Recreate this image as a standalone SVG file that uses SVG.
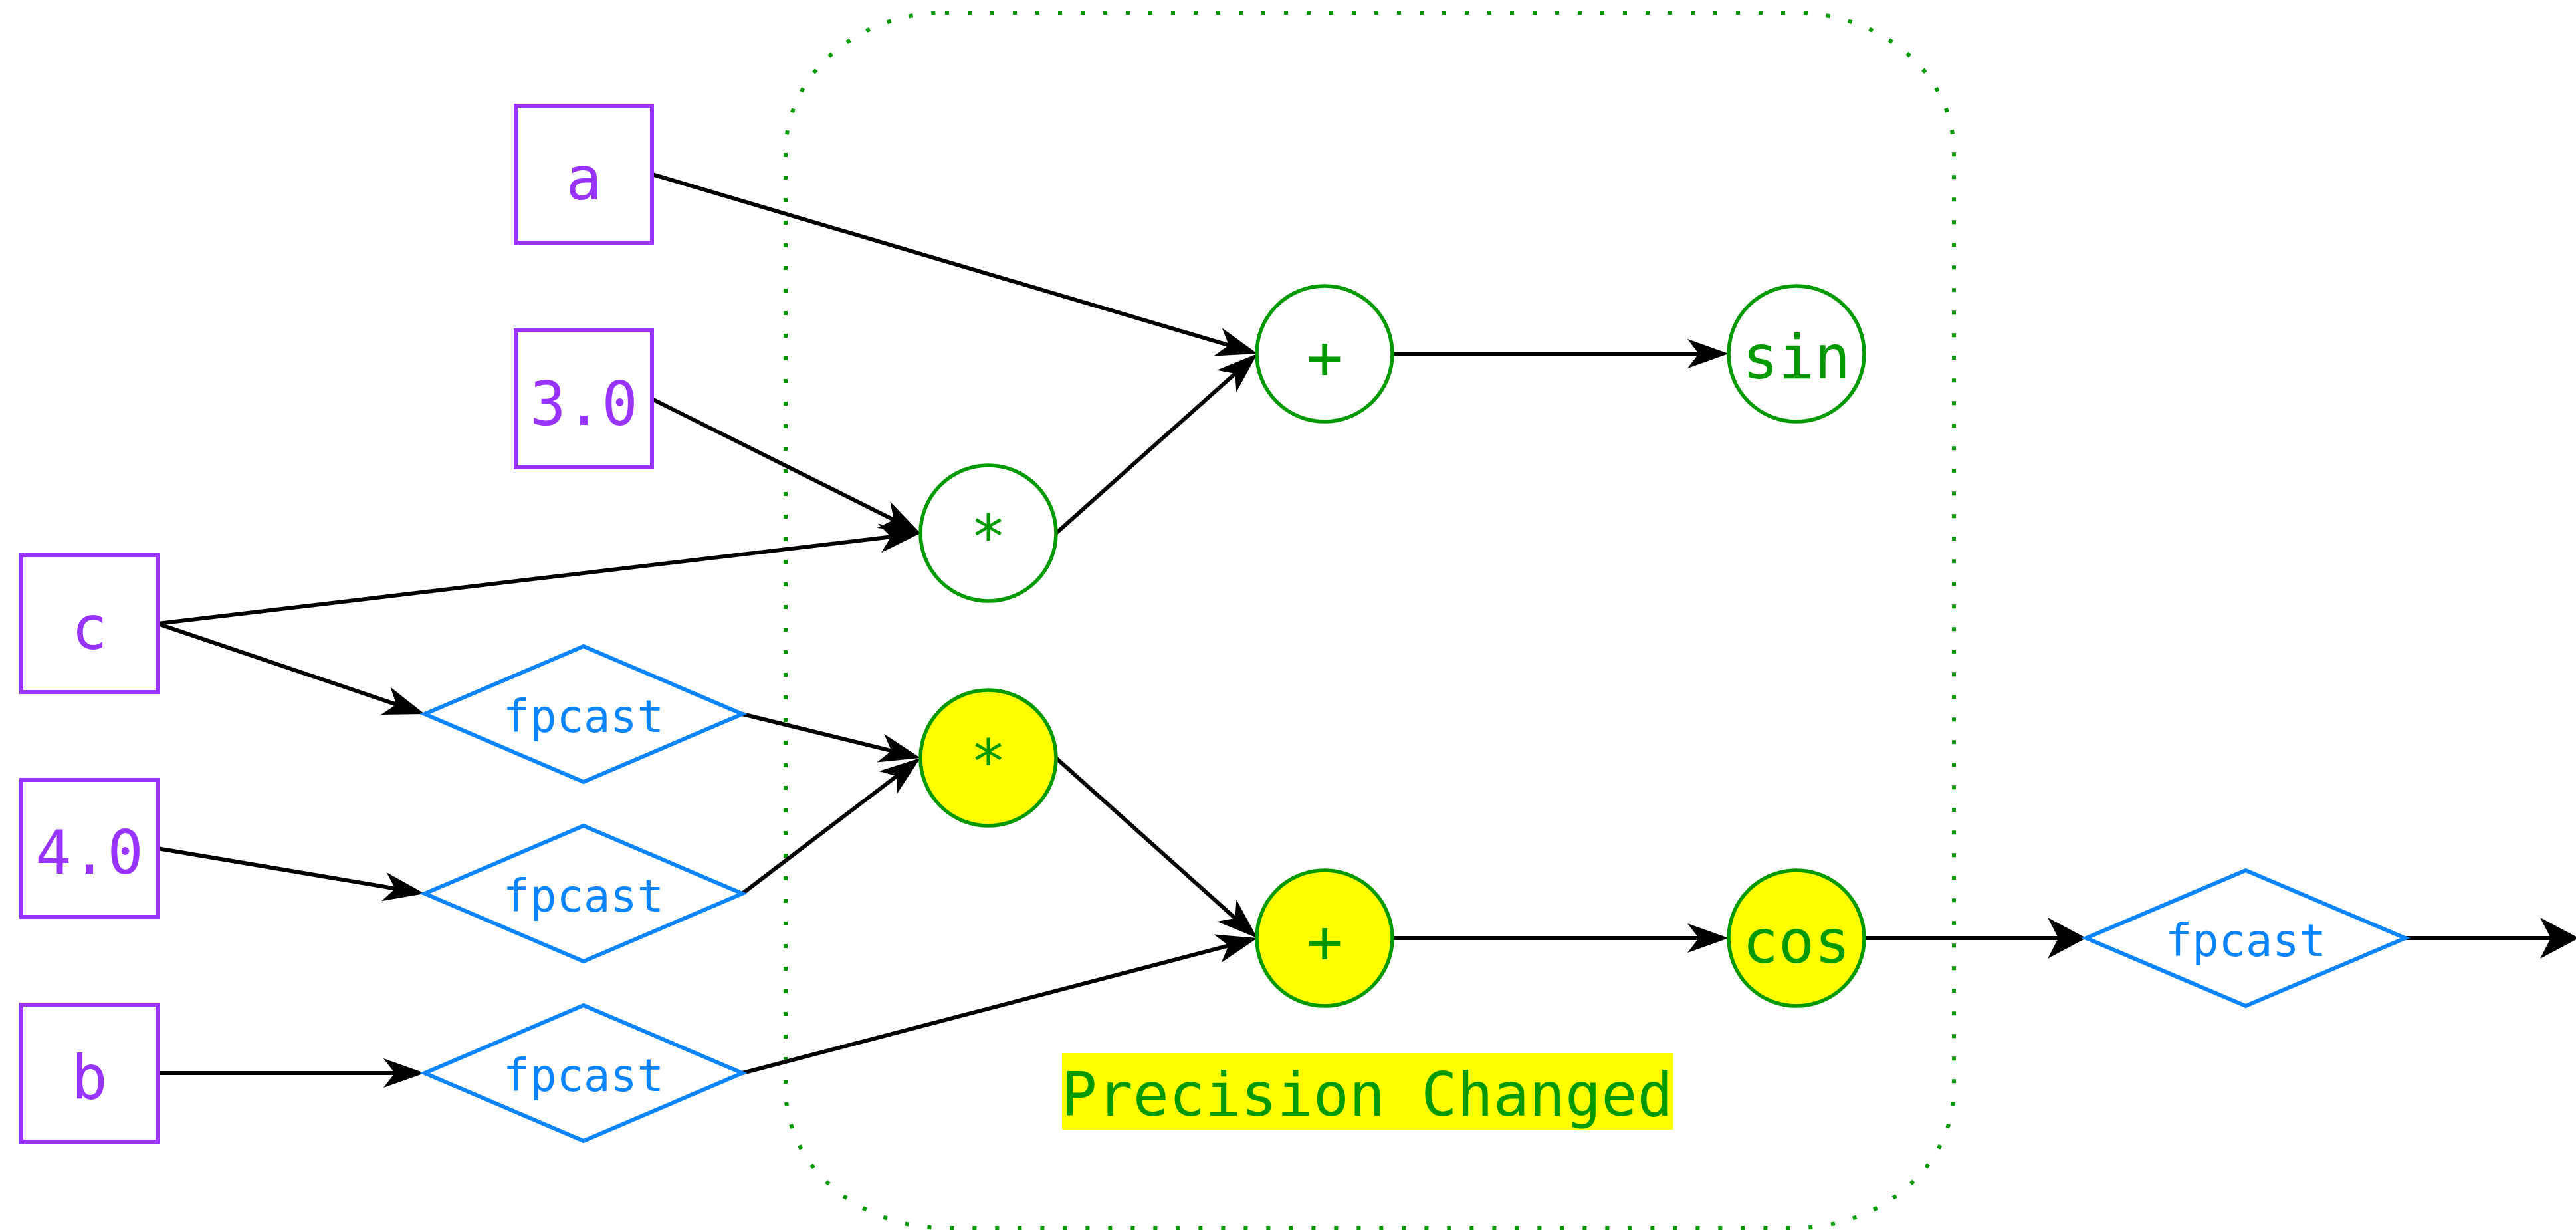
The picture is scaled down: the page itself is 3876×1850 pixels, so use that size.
<svg xmlns="http://www.w3.org/2000/svg" width="3876" height="1850" viewBox="0 0 3876 1850">
  <style>
    .box rect { fill: #ffffff; stroke: #9933ff; stroke-width: 6; }
    .box text { fill: #9933ff; font-family: "DejaVu Sans Mono", "Liberation Mono", monospace; font-size: 90px; text-anchor: middle; }
    .cast polygon { fill: #ffffff; stroke: #0a84ff; stroke-width: 6; }
    .cast text { fill: #0a84ff; font-family: "DejaVu Sans Mono", "Liberation Mono", monospace; font-size: 67px; text-anchor: middle; }
    .op circle { fill: #ffffff; stroke: #009900; stroke-width: 5.5; }
    .op.changed circle { fill: #ffff00; }
    .op text { fill: #009900; font-family: "DejaVu Sans Mono", "Liberation Mono", monospace; font-size: 90px; text-anchor: middle; }
    .edges path { fill: none; stroke: #000000; stroke-width: 6; }
    .cluster { fill: none; stroke: #009900; stroke-width: 6; stroke-dasharray: 6 28; }
    .cluster-label { fill: #009900; font-family: "DejaVu Sans Mono", "Liberation Mono", monospace; font-size: 90px; text-anchor: middle; }
  </style>
  <defs>
    <marker id="arrow" markerUnits="userSpaceOnUse" markerWidth="80" markerHeight="80" viewBox="-60 -40 80 80" refX="0" refY="0" orient="auto">
      <path d="M10,0 L-52,-22 L-35,0 L-52,22 Z" fill="#000000"/>
    </marker>
    <marker id="arrow-big" markerUnits="userSpaceOnUse" markerWidth="80" markerHeight="80" viewBox="-60 -40 80 80" refX="0" refY="0" orient="auto">
      <path d="M10,0 L-48,-31 L-32,0 L-48,31 Z" fill="#000000"/>
    </marker>
  </defs>

  <rect width="3876" height="1850" fill="#ffffff"/>

  <!-- precision-changed cluster -->
  <g id="cluster_precision">
    <rect class="cluster" x="1182" y="19" width="1758" height="1828" rx="240" ry="210"/>
    <rect x="1598" y="1584" width="919" height="115" fill="#ffff00"/>
    <text class="cluster-label" x="2057" y="1678">Precision Changed</text>
  </g>

  <!-- connectors -->
  <g id="edges" class="edges">
    <path d="M981,262 L1882.4,529.2" marker-end="url(#arrow)"/>
    <path d="M981,600 L1376.1,797.5" marker-end="url(#arrow)"/>
    <path d="M237,938 L1375.1,803.2" marker-end="url(#arrow)"/>
    <path d="M237,938 L629.5,1070.8" marker-end="url(#arrow)"/>
    <path d="M1117,1074 L1375.3,1137.6" marker-end="url(#arrow)"/>
    <path d="M237,1276 L629.1,1342.3" marker-end="url(#arrow)"/>
    <path d="M1117,1344 L1377,1146.1" marker-end="url(#arrow)"/>
    <path d="M237,1614 L629,1614" marker-end="url(#arrow)"/>
    <path d="M1117,1614 L1882.3,1413.5" marker-end="url(#arrow)"/>
    <path d="M1589,802 L1884.5,538.7" marker-end="url(#arrow)"/>
    <path d="M2094,532 L2591,532" marker-end="url(#arrow)"/>
    <path d="M1589,1140 L1884.5,1404.3" marker-end="url(#arrow)"/>
    <path d="M2094,1411 L2591,1411" marker-end="url(#arrow)"/>
    <path d="M2805,1411 L3129,1411" marker-end="url(#arrow-big)"/>
    <path d="M3619,1411 L3870,1411" marker-end="url(#arrow-big)"/>
  </g>

  <!-- inputs -->
  <g id="in_a" class="box">
    <rect x="776" y="159" width="205" height="206"/>
    <text x="878.5" y="300">a</text>
  </g>
  <g id="const_3" class="box">
    <rect x="776" y="497" width="205" height="206"/>
    <text x="878.5" y="639">3.0</text>
  </g>
  <g id="in_c" class="box">
    <rect x="32" y="835" width="205" height="206"/>
    <text x="134.5" y="976">c</text>
  </g>
  <g id="const_4" class="box">
    <rect x="32" y="1173" width="205" height="206"/>
    <text x="134.5" y="1314">4.0</text>
  </g>
  <g id="in_b" class="box">
    <rect x="32" y="1511" width="205" height="206"/>
    <text x="134.5" y="1652">b</text>
  </g>

  <!-- casts -->
  <g id="cast_c" class="cast">
    <polygon points="639,1074 878,972 1117,1074 878,1176"/>
    <text x="878" y="1101">fpcast</text>
  </g>
  <g id="cast_4" class="cast">
    <polygon points="639,1344 878,1242 1117,1344 878,1446"/>
    <text x="878" y="1371">fpcast</text>
  </g>
  <g id="cast_b" class="cast">
    <polygon points="639,1614 878,1512 1117,1614 878,1716"/>
    <text x="878" y="1641">fpcast</text>
  </g>
  <g id="cast_out" class="cast">
    <polygon points="3139,1411 3379,1309 3619,1411 3379,1513"/>
    <text x="3379" y="1438">fpcast</text>
  </g>

  <!-- operations -->
  <g id="mul_top" class="op">
    <circle cx="1487" cy="802" r="102"/>
    <text x="1487" y="839">*</text>
  </g>
  <g id="add_top" class="op">
    <circle cx="1993" cy="532" r="102"/>
    <text x="1993" y="569">+</text>
  </g>
  <g id="sin" class="op">
    <circle cx="2703" cy="532" r="102"/>
    <text x="2703" y="569">sin</text>
  </g>
  <g id="mul_low" class="op changed">
    <circle cx="1487" cy="1140" r="102"/>
    <text x="1487" y="1177">*</text>
  </g>
  <g id="add_low" class="op changed">
    <circle cx="1993" cy="1411" r="102"/>
    <text x="1993" y="1448">+</text>
  </g>
  <g id="cos" class="op changed">
    <circle cx="2703" cy="1411" r="102"/>
    <text x="2703" y="1448">cos</text>
  </g>
</svg>
